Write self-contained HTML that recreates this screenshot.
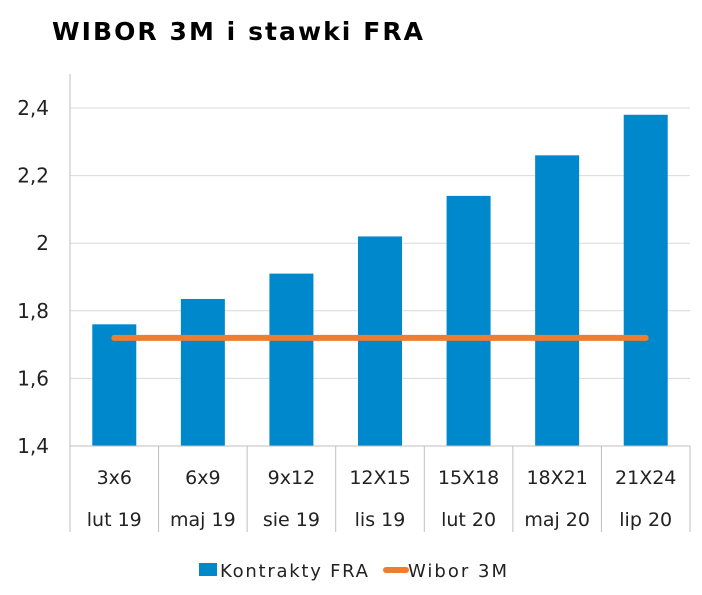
<!DOCTYPE html>
<html><head><meta charset="utf-8"><style>
body{margin:0;background:#fff;font-family:"DejaVu Sans","Liberation Sans",sans-serif;}
svg text{font-family:"DejaVu Sans","Liberation Sans",sans-serif;}
</style></head><body>
<svg width="702" height="591" xmlns="http://www.w3.org/2000/svg">
<text x="52" y="40" font-size="25" font-weight="bold" fill="#000" textLength="371">WIBOR 3M i stawki FRA</text>
<g id="grid"></g><g id="bars"></g><g id="xaxis"></g><g id="line"></g>
<g>
<rect x="199" y="563" width="18" height="13" fill="#0088CC"/>
<text x="220" y="577" font-size="18" fill="#222" textLength="148">Kontrakty FRA</text>
<line x1="386" y1="570" x2="406" y2="570" stroke="#ED7D31" stroke-width="6" stroke-linecap="round"/>
<text x="408" y="577" font-size="18" fill="#222" textLength="99">Wibor 3M</text>
</g>
</svg>
<script>
const categories=["3x6","6x9","9x12","12X15","15X18","18X21","21X24"];
const dates=["lut 19","maj 19","sie 19","lis 19","lut 20","maj 20","lip 20"];
const fraValues=[1.76,1.835,1.91,2.02,2.14,2.26,2.38];
const wiborValues=[1.72,1.72,1.72,1.72,1.72,1.72,1.72];
const yTicks=[1.4,1.6,1.8,2,2.2,2.4];
const yTickLabels=["1,4","1,6","1,8","2","2,2","2,4"];
const NS="http://www.w3.org/2000/svg";
const L=70,R=690,T=74,B=446,yMin=1.4,yMax=2.4,yTopPx=108;
function y(v){return B-(v-yMin)/(yMax-yMin)*(B-yTopPx);}
const bw=(R-L)/categories.length;
function xc(i){return L+bw*(i+0.5);}
function mk(tag,attrs,parent){const e=document.createElementNS(NS,tag);for(const k in attrs)e.setAttribute(k,attrs[k]);parent.appendChild(e);return e;}
const grid=document.getElementById('grid');
yTicks.forEach((t,i)=>{
 if(i>0){const g=mk('line',{x1:L,x2:R,y1:y(t),y2:y(t),stroke:'#d9d9d9','stroke-width':1},grid);
 
 }
 const tx=mk('text',{x:49,y:y(t)+7,'font-size':20,'text-anchor':'end',fill:'#222'},grid);
 tx.textContent=yTickLabels[i];
 
 
});
const ax=mk('line',{x1:L,x2:L,y1:T,y2:B,stroke:'#bfbfbf'},grid);


const bars=document.getElementById('bars');
fraValues.forEach((v,i)=>{
 const r=mk('rect',{x:xc(i)-22,y:y(v),width:44,height:B-y(v),fill:'#0088CC'},bars);
 
 
});
const xa=document.getElementById('xaxis');
const base=mk('line',{x1:L,x2:R,y1:B,y2:B,stroke:'#bfbfbf'},xa);


for(let i=0;i<=categories.length;i++){
 const s=mk('line',{x1:L+bw*i,x2:L+bw*i,y1:B,y2:532,stroke:'#bfbfbf'},xa);
 
 
}
categories.forEach((c,i)=>{
 const t1=mk('text',{x:xc(i),y:484,'font-size':19,'text-anchor':'middle',fill:'#222'},xa);
 t1.textContent=c;
 
 
 const t2=mk('text',{x:xc(i),y:526,'font-size':19,'text-anchor':'middle',fill:'#222'},xa);
 t2.textContent=dates[i];
 
 
});
const pts=wiborValues.map((v,i)=>xc(i)+','+y(v)).join(' ');
const pl=mk('polyline',{points:pts,fill:'none',stroke:'#ED7D31','stroke-width':6,'stroke-linecap':'round'},document.getElementById('line'));


</script>
</body></html>
